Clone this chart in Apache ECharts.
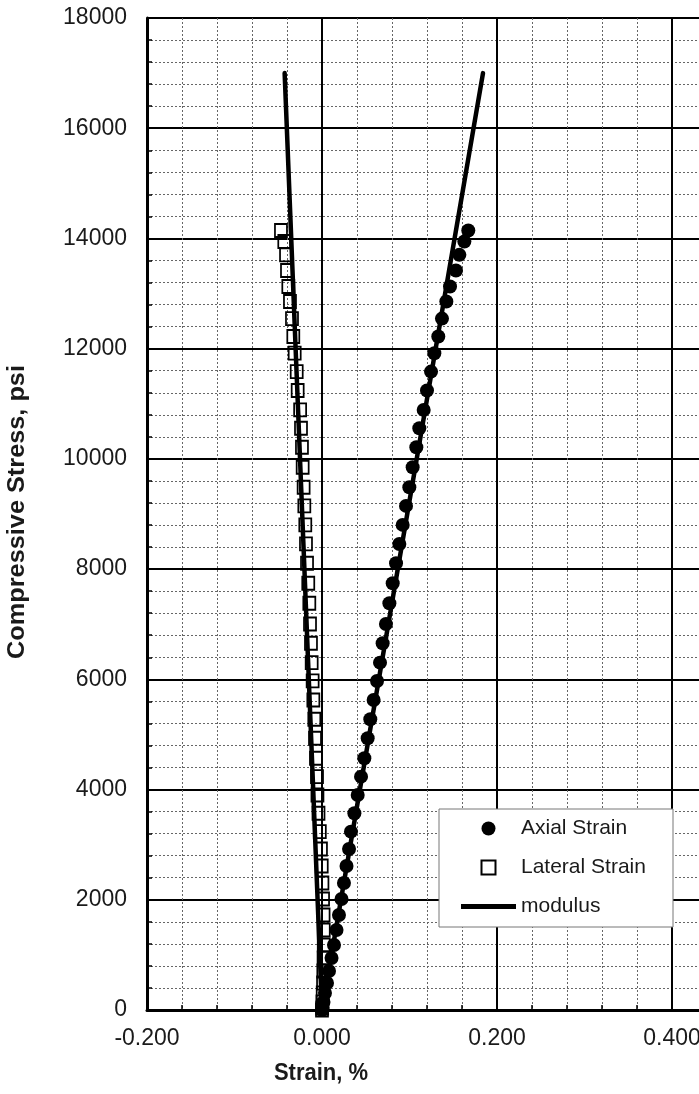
<!DOCTYPE html>
<html>
<head>
<meta charset="utf-8">
<script src="https://cdn.jsdelivr.net/npm/echarts@6/dist/echarts.min.js"></script>
<style>
html,body{margin:0;padding:0;background:#fff;}
#chart{width:699px;height:1094px;}
</style>
</head>
<body>
<div id="chart"></div>
<script>
// Stress levels (psi) of the recorded points
const stress = [0,36,145,309,490,708,944,1180,1452,1724,2015,2305,2613,2922,3236,3570,3902,4234,4568,4931,5276,5626,5971,6303,6655,7005,7381,7744,8107,8457,8802,9147,9486,9849,10212,10557,10889,11240,11584,11918,12220,12546,12855,13127,13418,13702,13944,14144];
// Axial strain (%)
const axialStrain = [0,0.0006,0.0017,0.0034,0.0057,0.0080,0.0109,0.0137,0.0166,0.0194,0.0223,0.0251,0.0280,0.0309,0.0331,0.0370,0.0408,0.0446,0.0484,0.0522,0.0552,0.0590,0.0629,0.0663,0.0693,0.0731,0.0770,0.0808,0.0846,0.0884,0.0922,0.0960,0.0998,0.1036,0.1078,0.1112,0.1162,0.1200,0.1246,0.1284,0.1329,0.1371,0.1421,0.1463,0.1531,0.1570,0.1627,0.1672];
// Lateral strain (%)
const lateralStrain = [0,0.0002,0.0005,0.0008,0.0012,0.0015,0.0018,0.0020,0.0020,0.0018,0.0012,0.0005,-0.0003,-0.0012,-0.0025,-0.0040,-0.0052,-0.0057,-0.0069,-0.0080,-0.0088,-0.0099,-0.0107,-0.0118,-0.0126,-0.0137,-0.0145,-0.0157,-0.0171,-0.0183,-0.0191,-0.0202,-0.0210,-0.0221,-0.0229,-0.0240,-0.0250,-0.0278,-0.0289,-0.0312,-0.0328,-0.0343,-0.0366,-0.0385,-0.0400,-0.0411,-0.0431,-0.0469];
// Modulus lines (lateral end, origin, axial end)
const modulusStrain = [-0.0427, 0, 0.184];
const modulusStress = [17000, 0, 17000];

const seriesNames = ['Axial Strain', 'Lateral Strain', 'modulus'];
const xAxisTitle = 'Strain, %';
const yAxisTitle = 'Compressive Stress, psi';

const FONT = '"Liberation Sans", Arial, sans-serif';
const TXT = '#1a1a1a';

const chart = echarts.init(document.getElementById('chart'), null, {renderer: 'canvas'});

const axialData = stress.map((s, i) => [axialStrain[i], s]);
const lateralData = stress.map((s, i) => [lateralStrain[i], s]);
const modulusData = modulusStress.map((s, i) => [modulusStrain[i], s]);

const commonAxis = {
  axisLine: {show: true, onZero: false, lineStyle: {color: '#000', width: 3}},
  axisTick: {show: true, inside: true, length: 5, lineStyle: {color: '#000', width: 1.5}},
  minorTick: {show: true, splitNumber: 5, length: 5, lineStyle: {color: '#000', width: 1.5}},
  splitLine: {show: true, lineStyle: {color: '#000', width: 2}},
  minorSplitLine: {show: true, lineStyle: {color: '#666', width: 1, type: [2, 2]}},
  axisLabel: {color: TXT, fontFamily: FONT, fontSize: 23}
};

const option = {
  backgroundColor: '#fff',
  animation: false,
  grid: {left: 147, top: 18, width: 700, bottom: 84, containLabel: false, outerBoundsMode: 'none'},
  xAxis: Object.assign({}, commonAxis, {
    type: 'value', min: -0.2, max: 0.6, interval: 0.2,
    axisLabel: Object.assign({}, commonAxis.axisLabel, {margin: 17, formatter: v => v.toFixed(3)})
  }),
  yAxis: Object.assign({}, commonAxis, {
    type: 'value', min: 0, max: 18000, interval: 2000,
    axisLabel: Object.assign({}, commonAxis.axisLabel, {margin: 20, formatter: v => String(v)})
  }),
  legend: {
    show: true, orient: 'vertical', left: 461, top: 818, z: 10,
    itemWidth: 55, itemHeight: 14, itemGap: 18, padding: 0,
    textStyle: {color: TXT, fontFamily: FONT, fontSize: 21},
    data: [
      {name: seriesNames[0], icon: 'circle'},
      {name: seriesNames[1], icon: 'path://M0,0 H10 V10 H0 Z'},
      {name: seriesNames[2], icon: 'path://M0,0 H55 V5 H0 Z'}
    ]
  },
  graphic: [
    {type: 'rect', z: 5, shape: {x: 439, y: 809, width: 234, height: 118},
     style: {fill: '#fff', stroke: '#777', lineWidth: 1}},
    {type: 'text', z: 5, x: 321, y: 1073, scaleY: 1.1,
     style: {text: xAxisTitle, fill: TXT, font: 'bold 22px ' + FONT, textAlign: 'center', textVerticalAlign: 'middle'}},
    {type: 'text', z: 5, x: 18, y: 512, rotation: Math.PI / 2, scaleX: 1.1,
     style: {text: yAxisTitle, fill: TXT, font: 'bold 23px ' + FONT, textAlign: 'center', textVerticalAlign: 'middle'}}
  ],
  series: [
    {name: seriesNames[2], type: 'line', data: modulusData, z: 3, symbol: 'none', showSymbol: false,
     lineStyle: {color: '#000', width: 4.5, cap: 'round', join: 'round'}, itemStyle: {color: '#000'}},
    {name: seriesNames[1], type: 'scatter', data: lateralData, z: 4, symbol: 'rect', symbolSize: [12, 13],
     itemStyle: {color: 'rgba(255,255,255,0)', borderColor: '#000', borderWidth: 1.8, opacity: 1}},
    {name: seriesNames[0], type: 'scatter', data: axialData, z: 5, symbol: 'circle', symbolSize: 14,
     itemStyle: {color: '#000', opacity: 1}}
  ]
};

chart.setOption(option);
</script>
</body>
</html>
